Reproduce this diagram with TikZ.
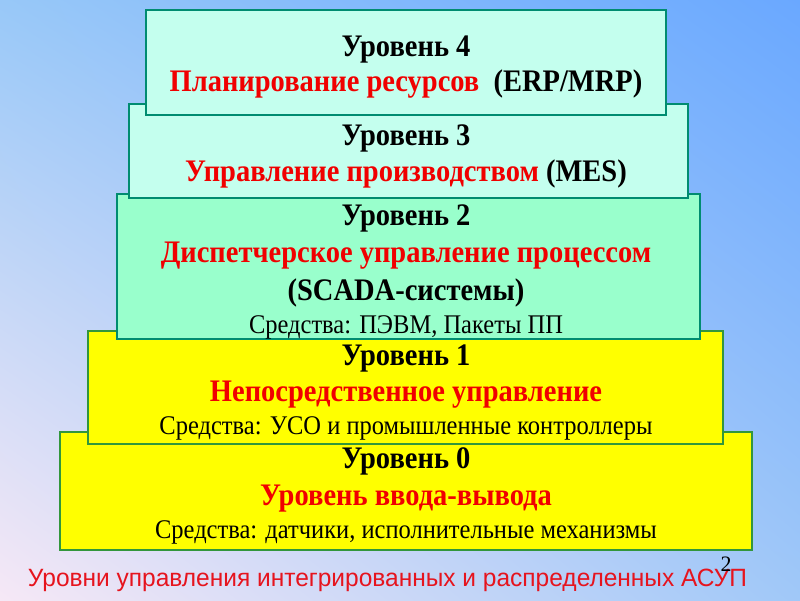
\documentclass[tikz,border=0pt]{standalone}
\usepackage{fontspec}
\usetikzlibrary{shadings}
\setmainfont{Liberation Serif}
\newfontfamily\capfont{Liberation Sans}
\definecolor{cyanfill}{RGB}{196,255,238}
\definecolor{aquafill}{RGB}{153,255,204}
\definecolor{yelfill}{RGB}{255,255,0}
\definecolor{tealline}{RGB}{0,140,112}
\definecolor{greenline}{RGB}{50,150,60}
\definecolor{txtred}{RGB}{240,0,0}
\definecolor{capred}{RGB}{230,20,30}
\definecolor{bgUL}{RGB}{152,200,248}
\definecolor{bgUR}{RGB}{106,168,255}
\definecolor{bgLL}{RGB}{246,232,246}
\definecolor{bgLR}{RGB}{160,200,248}
\newcommand\vstretch[1]{\scalebox{1}[1.1]{#1}}
\tikzset{
  lvbox/.style={draw=tealline, line width=2pt, inner sep=0pt, outer sep=0pt},
  head/.style={font=\fontsize{28.5}{30}\selectfont\bfseries, inner sep=0pt, anchor=base},
  redhead/.style={head, text=txtred},
  means/.style={font=\fontsize{24.5}{26}\selectfont, inner sep=0pt, anchor=base},
}
\begin{document}
\begin{tikzpicture}[x=1pt,y=-1pt]
\shade[upper left=bgUL, upper right=bgUR, lower left=bgLL, lower right=bgLR] (0,0) rectangle (800,600);
\useasboundingbox (0,0) rectangle (800,600);
% boxes
\node[lvbox, draw=greenline, fill=yelfill, minimum width=692pt, minimum height=118pt] (b0) at (406,491) {};
\node[lvbox, draw=greenline, fill=yelfill, minimum width=635pt, minimum height=113pt] (b1) at (405.5,387.5) {};
\node[lvbox, fill=aquafill, minimum width=583pt, minimum height=145pt] (b2) at (408.5,266.5) {};
\node[lvbox, fill=cyanfill, minimum width=559pt, minimum height=94pt] (b3) at (408.5,151) {};
\node[lvbox, fill=cyanfill, minimum width=520pt, minimum height=105pt] (b4) at (406,62.5) {};
% texts
\node[head] (t4a) at (406,56) {\vstretch{Уровень 4}};
\node[head] (t4b) at (406,91) {\vstretch{\textcolor{txtred}{Планирование ресурсов}\ \ (ERP/MRP)}};
\node[head] (t3a) at (406,145) {\vstretch{Уровень 3}};
\node[head] (t3b) at (406,181) {\vstretch{\textcolor{txtred}{Управление производством} (MES)}};
\node[head] (t2a) at (406,225) {\vstretch{Уровень 2}};
\node[redhead] (t2b) at (406,262) {\vstretch{Диспетчерское управление процессом}};
\node[head] (t2c) at (406,300) {\vstretch{(SCADA-системы)}};
\node[means] (t2d) at (406,333) {\vstretch{Средства: ПЭВМ, Пакеты ПП}};
\node[head] (t1a) at (406,365) {\vstretch{Уровень 1}};
\node[redhead] (t1b) at (406,401) {\vstretch{Непосредственное управление}};
\node[means] (t1c) at (406,434) {\vstretch{Средства: УСО и промышленные контроллеры}};
\node[head] (t0a) at (406,468) {\vstretch{Уровень 0}};
\node[redhead] (t0b) at (406,505) {\vstretch{Уровень ввода-вывода}};
\node[means] (t0c) at (406,538) {\vstretch{Средства: датчики, исполнительные механизмы}};
\node[font=\capfont\fontsize{25}{27}\selectfont, text=capred, inner sep=0pt, anchor=base] (cap) at (387.5,586) {\scalebox{0.98}[1]{Уровни управления интегрированных и распределенных АСУП}};
\node[font=\fontsize{22}{24}\selectfont, inner sep=0pt, anchor=base] (pg) at (726,571) {2};
\end{tikzpicture}
\end{document}
